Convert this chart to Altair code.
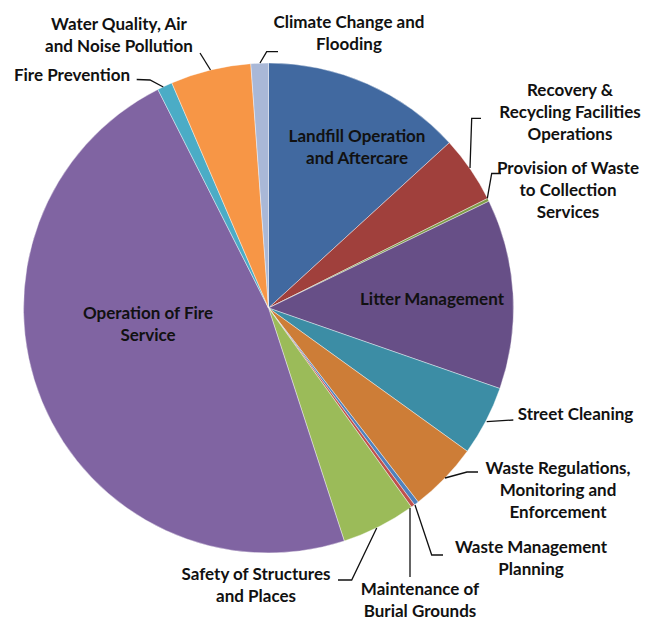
import altair as alt
import pandas as pd

# Slice data (clockwise from 12 o'clock), values as share of total (%)
categories = [
    "Landfill Operation and Aftercare",
    "Recovery & Recycling Facilities Operations",
    "Provision of Waste to Collection Services",
    "Litter Management",
    "Street Cleaning",
    "Waste Regulations, Monitoring and Enforcement",
    "Waste Management Planning",
    "Maintenance of Burial Grounds",
    "Safety of Structures and Places",
    "Operation of Fire Service",
    "Fire Prevention",
    "Water Quality, Air and Noise Pollution",
    "Climate Change and Flooding",
]
values = [13.2, 4.4, 0.2, 12.5, 4.6, 4.6, 0.3, 0.25, 4.9, 47.5, 1.0, 5.3, 1.15]
colors = ["#4169A0", "#A0403C", "#7E9B48", "#674F87", "#3C8DA5", "#CD7D37",
          "#4F81BD", "#C0504D", "#9BBB59", "#8064A2", "#4BACC6", "#F79646", "#A9B8D7"]

# Displayed label text (line-broken as in the reference)
label_text = [
    "Landfill Operation\nand Aftercare",
    "Recovery &\nRecycling Facilities\nOperations",
    "Provision of Waste\nto Collection\nServices",
    "Litter Management",
    "Street Cleaning",
    "Waste Regulations,\nMonitoring and\nEnforcement",
    "Waste Management\nPlanning",
    "Maintenance of\nBurial Grounds",
    "Safety of Structures\nand Places",
    "Operation of Fire\nService",
    "Fire Prevention",
    "Water Quality, Air\nand Noise Pollution",
    "Climate Change and\nFlooding",
]

# ---- layout (pixel positions in page coordinates; first text line) ----
OFF = 8
CX, CY, R = 268.5 - OFF, 308 - OFF, 245
label_pos = [
    (357, 137), (570, 90.7), (568, 169), (432, 300), (575.5, 415),
    (558, 469), (531, 548.3), (420, 590), (256, 575), (148, 314),
    (72, 76), (119, 25), (349, 23.3),
]
leaders = {
    1: [(470, 168), (471.7, 118.3), (481, 118.3)],
    2: [(487.3, 198.3), (491.7, 173.5), (501, 173.5)],
    4: [(486.7, 421.7), (513.3, 420)],
    5: [(445, 478), (467, 472), (478, 472)],
    6: [(415, 505), (431.7, 555), (443, 555)],
    7: [(410, 508), (410, 577)],
    8: [(376.7, 528), (351.7, 580), (338, 580)],
    10: [(163.3, 87), (150, 80), (136.7, 79.5)],
    11: [(210.5, 70), (200, 53)],
    12: [(260, 63), (266.7, 51.7), (278, 51.7)],
}

pie_df = pd.DataFrame({"category": categories, "value": values,
                       "idx": list(range(len(categories)))})
lab_df = pd.DataFrame({
    "text": label_text,
    "x": [p[0] - OFF for p in label_pos],
    "y": [p[1] - OFF for p in label_pos],
})
rows = []
for k, pts in leaders.items():
    for j, (px, py) in enumerate(pts):
        rows.append({"id": k, "ord": j, "x": px - OFF, "y": py - OFF})
line_df = pd.DataFrame(rows)

arcs = alt.Chart(pie_df).mark_arc(
    outerRadius=R, stroke="white", strokeWidth=0.4
).encode(
    theta=alt.Theta("value:Q", stack=True),
    order=alt.Order("idx:Q", sort="ascending"),
    color=alt.Color("category:N", scale=alt.Scale(domain=categories, range=colors),
                    legend=None),
    x=alt.value(CX),
    y=alt.value(CY),
)

texts = alt.Chart(lab_df).mark_text(
    font="Lato", fontWeight="bold", fontSize=17, lineBreak="\n",
    lineHeight=22, align="center", baseline="middle", color="#111111",
).encode(
    x=alt.X("x:Q", scale=None, axis=None),
    y=alt.Y("y:Q", scale=None, axis=None),
    text="text:N",
)

lines = alt.Chart(line_df).mark_line(color="#111111", strokeWidth=1.3).encode(
    x=alt.X("x:Q", scale=None, axis=None),
    y=alt.Y("y:Q", scale=None, axis=None),
    detail="id:N",
    order="ord:Q",
)

chart = alt.layer(arcs, lines, texts).properties(
    width=640, height=610, padding=0,
    autosize=alt.AutoSizeParams(type="none"),
).configure_view(stroke=None)

chart.save("out.html", embed_options={"renderer": "svg", "actions": False})
